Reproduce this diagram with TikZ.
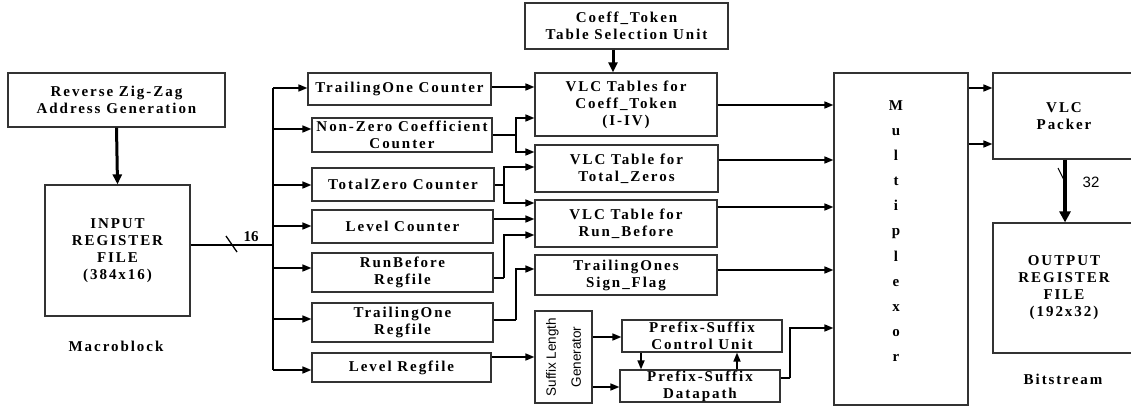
\documentclass[tikz,border=0pt]{standalone}
\usepackage{fontspec}
\setmainfont{Liberation Serif}
\newfontfamily\lblfont{Liberation Serif}[LetterSpace=13]
\newfontfamily\sansfont{Liberation Sans}
\usetikzlibrary{arrows.meta}
\begin{document}
\begin{tikzpicture}[x=1pt,y=-1pt,
  blk/.style={draw=black!80, line width=1.2pt, align=center, inner sep=0pt,
    font=\lblfont\bfseries\fontsize{15}{17}\selectfont},
  conn/.style={line width=1.6pt, -{Triangle[length=9pt,width=7pt]}},
  thickconn/.style={line width=3pt, -{Triangle[length=10pt,width=9pt]}},
  wire/.style={line width=1.3pt},
  txt/.style={font=\lblfont\bfseries\fontsize{15}{17}\selectfont, inner sep=0pt}]
\useasboundingbox (0,0) rectangle (1131,409);

% ---------- blocks ----------
\node[blk, minimum width=217pt, minimum height=54pt] (zz) at (116.5,100) {Reverse Zig-Zag\\Address Generation};
\node[blk, minimum width=145pt, minimum height=131pt] (inp) at (117.5,250.5) {INPUT\\REGISTER\\FILE\\(384x16)};
\node[txt] (mb) at (116,346) {Macroblock};

\node[blk, minimum width=183pt, minimum height=32pt] (toc) at (399.5,89) {TrailingOne Counter};
\node[blk, minimum width=180pt, minimum height=34pt] (nzc) at (402,135) {Non-Zero Coefficient\\Counter};
\node[blk, minimum width=182pt, minimum height=33pt] (tzc) at (403,184.5) {TotalZero Counter};
\node[blk, minimum width=181pt, minimum height=33pt] (lc) at (402.5,226.5) {Level Counter};
\node[blk, minimum width=181pt, minimum height=39pt] (rbr) at (402.5,272.5) {RunBefore\\Regfile};
\node[blk, minimum width=181pt, minimum height=39pt] (tor) at (402.5,322.5) {TrailingOne\\Regfile};
\node[blk, minimum width=179pt, minimum height=29pt] (lr) at (401.5,367.5) {Level Regfile};

\node[blk, minimum width=203pt, minimum height=46pt] (cts) at (626.5,26) {Coeff\_Token\\Table Selection Unit};
\node[blk, minimum width=182pt, minimum height=63pt] (vct) at (626,104.5) {VLC Tables for\\Coeff\_Token\\(I-IV)};
\node[blk, minimum width=183pt, minimum height=47pt] (vtz) at (626.5,168.5) {VLC Table for\\Total\_Zeros};
\node[blk, minimum width=182pt, minimum height=47pt] (vrb) at (626,223.5) {VLC Table for\\Run\_Before};
\node[blk, minimum width=182pt, minimum height=40pt] (tsf) at (626,275) {TrailingOnes\\Sign\_Flag};
\node[blk, minimum width=57pt, minimum height=92pt] (slg) at (563.5,357) {};
\node[rotate=90, align=center, inner sep=0pt, font=\sansfont\fontsize{13.5}{25}\selectfont] (slgl) at (slg.center) {Suffix Length\\Generator};
\node[blk, minimum width=160pt, minimum height=32pt] (pscu) at (702,336) {Prefix-Suffix\\Control Unit};
\node[blk, minimum width=160pt, minimum height=32pt] (psd) at (700,386) {Prefix-Suffix\\Datapath};

\node[blk, minimum width=134pt, minimum height=332pt] (mux) at (901,239) {};
\node[txt, align=center, font=\bfseries\fontsize{15}{25.1}\selectfont] (muxl) at (896,231) {M\\u\\l\\t\\i\\p\\l\\e\\x\\o\\r};

\node[blk, minimum width=142pt, minimum height=86pt] (pack) at (1064,116) {VLC\\Packer};
\node[blk, minimum width=142pt, minimum height=130pt] (out) at (1064,288) {OUTPUT\\REGISTER\\FILE\\(192x32)};
\node[txt] (bs) at (1063,379) {Bitstream};

% ---------- connectors ----------
\draw[thickconn] (zz.south) -- (inp.north);
\draw[thickconn] (cts.south -| 613,0) -- (vct.north -| 613,0);

% input bus
\coordinate (bj) at (273,245);
\coordinate (btop) at (273,88);
\coordinate (bbot) at (273,370);
\draw[wire] (inp.east |- bj) -- (bj);
\draw[wire] (btop) -- (bbot);
\draw[wire] (226,236) -- (237,252);
\node[txt, font=\bfseries\fontsize{15}{17}\selectfont] (w16) at (251,237) {16};

\draw[conn] (btop) -- (toc.west |- btop);
\draw[conn] (273,129) -- (nzc.west |- 0,129);
\draw[conn] (273,185) -- (tzc.west |- 0,185);
\draw[conn] (273,226) -- (lc.west |- 0,226);
\draw[conn] (273,268) -- (rbr.west |- 0,268);
\draw[conn] (273,319) -- (tor.west |- 0,319);
\draw[conn] (bbot) -- (lr.west |- bbot);

% left column to tables
\draw[conn] (toc.east |- 0,87) -- (vct.west |- 0,87);
\coordinate (j1) at (516,135);
\draw[wire] (nzc.east |- j1) -- (j1);
\draw[conn] (j1) |- (vct.west |- 0,118);
\draw[conn] (j1) |- (vtz.west |- 0,152);
\coordinate (j2) at (504,185);
\draw[wire] (tzc.east |- j2) -- (j2);
\draw[conn] (j2) |- (vtz.west |- 0,167);
\draw[conn] (j2) |- (vrb.west |- 0,203);
\draw[conn] (lc.east |- 0,219) -- (vrb.west |- 0,219);
\coordinate (j3) at (504,278);
\draw[wire] (rbr.east |- j3) -- (j3);
\draw[conn] (j3) |- (vrb.west |- 0,235);
\coordinate (j4) at (516,320);
\draw[wire] (tor.east |- j4) -- (j4);
\draw[conn] (j4) |- (tsf.west |- 0,269);
\draw[conn] (lr.east |- 0,357) -- (slg.west |- 0,357);

% suffix / prefix
\draw[conn] (slg.east |- 0,337) -- (pscu.west |- 0,337);
\draw[conn] (slg.east |- 0,387) -- (psd.west |- 0,387);
\draw[conn] (pscu.south -| 641,0) -- (psd.north -| 641,0);
\draw[conn] (psd.north -| 737,0) -- (pscu.south -| 737,0);

% tables to multiplexor
\draw[conn] (vct.east |- 0,105) -- (mux.west |- 0,105);
\draw[conn] (vtz.east |- 0,160) -- (mux.west |- 0,160);
\draw[conn] (vrb.east |- 0,207) -- (mux.west |- 0,207);
\draw[conn] (tsf.east |- 0,270) -- (mux.west |- 0,270);
\coordinate (j5) at (790,378);
\draw[wire] (psd.east |- j5) -- (j5);
\draw[conn] (j5) |- (mux.west |- 0,328);

% multiplexor to packer
\draw[conn] (mux.east |- 0,88) -- (pack.west |- 0,88);
\draw[conn] (mux.east |- 0,144) -- (pack.west |- 0,144);

% packer to output
\draw[line width=4pt, -{Triangle[length=11pt,width=11pt]}] (pack.south -| 1065,0) -- (out.north -| 1065,0);
\draw[line width=1pt] (1058,168) -- (1066,184);
\node[inner sep=0pt, font=\sansfont\fontsize{15}{17}\selectfont] (w32) at (1091,182) {32};
\end{tikzpicture}
\end{document}
